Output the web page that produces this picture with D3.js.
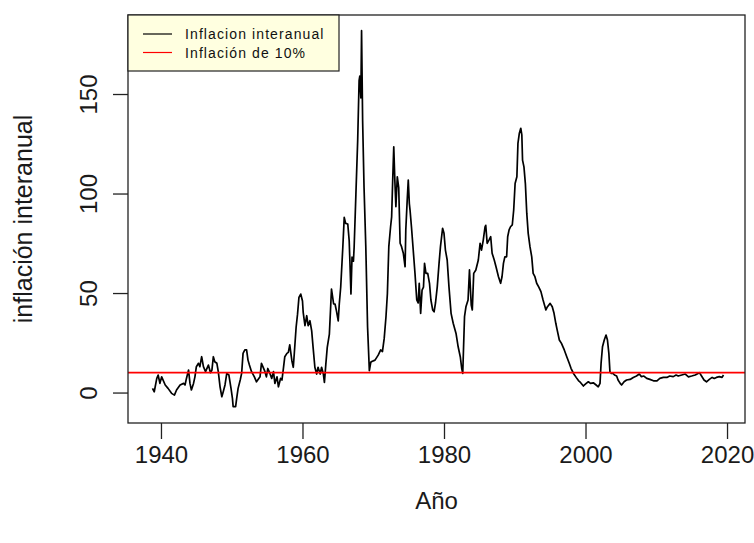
<!DOCTYPE html>
<html>
<head>
<meta charset="utf-8">
<script src="https://cdn.jsdelivr.net/npm/d3@7"></script>
<style>
  html, body { margin: 0; padding: 0; background: #fff; }
  svg { display: block; }
  text { font-family: "Liberation Sans", Arial, sans-serif; }
</style>
</head>
<body>
<svg id="chart" width="754" height="543"></svg>
<script>
// ---- data ----
const years = [
  1938.8, 1939.05, 1939.4, 1939.6, 1939.85, 1940.1, 1940.6, 1941.0, 1941.5, 1941.9,
  1942.2, 1942.7, 1943.2, 1943.4, 1943.6, 1943.9, 1944.1, 1944.3, 1944.6, 1944.8,
  1945.0, 1945.3, 1945.5, 1945.75, 1946.0, 1946.3, 1946.7, 1947.0, 1947.2, 1947.4,
  1947.6, 1947.9, 1948.1, 1948.35, 1948.6, 1948.8, 1949.05, 1949.3, 1949.6, 1949.9,
  1950.1, 1950.2, 1950.55, 1950.7, 1950.9, 1951.2, 1951.4, 1951.6, 1951.85, 1952.1,
  1952.3, 1952.5, 1952.8, 1953.2, 1953.5, 1954.0, 1954.2, 1954.4, 1954.7, 1954.9,
  1955.1, 1955.4, 1955.65, 1955.9, 1956.1, 1956.4, 1956.6, 1956.9, 1957.1, 1957.3,
  1957.5, 1957.8, 1958.0, 1958.2, 1958.5, 1958.7, 1958.85, 1959.1, 1959.3, 1959.5,
  1959.75, 1960.0, 1960.1, 1960.35, 1960.6, 1960.8, 1961.05, 1961.3, 1961.5, 1961.75,
  1962.0, 1962.2, 1962.5, 1962.7, 1962.95, 1963.1, 1963.3, 1963.5, 1963.8, 1964.0,
  1964.1, 1964.4, 1964.6, 1964.8, 1965.05, 1965.2, 1965.4, 1965.7, 1965.9, 1966.1,
  1966.4, 1966.6, 1966.7, 1966.85, 1967.0, 1967.2, 1967.3, 1967.55, 1967.8, 1968.0,
  1968.1, 1968.25, 1968.35, 1968.5, 1968.7, 1968.95, 1969.2, 1969.45, 1969.65, 1969.8,
  1970.25, 1970.7, 1971.05, 1971.3, 1971.55, 1971.8, 1972.0, 1972.2, 1972.45, 1972.6,
  1972.75, 1972.9, 1973.05, 1973.2, 1973.4, 1973.6, 1973.8, 1974.0, 1974.25, 1974.5,
  1974.6, 1974.8, 1974.95, 1975.1, 1975.2, 1975.4, 1975.65, 1975.9, 1976.15, 1976.35,
  1976.5, 1976.7, 1976.9, 1977.1, 1977.25, 1977.45, 1977.7, 1977.95, 1978.15, 1978.4,
  1978.6, 1978.8, 1979.05, 1979.3, 1979.5, 1979.8, 1980.0, 1980.2, 1980.45, 1980.7,
  1981.0, 1981.3, 1981.7, 1982.0, 1982.3, 1982.5, 1982.65, 1982.9, 1983.1, 1983.4,
  1983.6, 1983.85, 1984.0, 1984.2, 1984.5, 1984.85, 1985.1, 1985.3, 1985.55, 1985.8,
  1985.9, 1986.1, 1986.35, 1986.6, 1986.8, 1987.1, 1987.35, 1987.7, 1988.0, 1988.2,
  1988.4, 1988.6, 1988.85, 1989.0, 1989.2, 1989.4, 1989.65, 1989.85, 1990.05, 1990.3,
  1990.45, 1990.65, 1990.85, 1991.0, 1991.1, 1991.3, 1991.5, 1991.7, 1991.9, 1992.15,
  1992.4, 1992.6, 1992.85, 1993.1, 1993.4, 1993.7, 1994.0, 1994.4, 1994.6, 1995.0,
  1995.3, 1995.55, 1995.8, 1996.0, 1996.3, 1996.6, 1997.0, 1997.35, 1997.7, 1997.95,
  1998.3, 1998.7, 1999.0, 1999.2, 1999.7, 2000.1, 2000.4, 2000.7, 2001.1, 2001.5,
  2001.8, 2002.05, 2002.2, 2002.4, 2002.65, 2002.9, 2003.1, 2003.3, 2003.45, 2003.65,
  2003.9, 2004.1, 2004.4, 2004.6, 2004.9, 2005.1, 2005.45, 2005.8, 2006.3, 2006.75,
  2007.2, 2007.6, 2007.9, 2008.25, 2008.65, 2009.1, 2009.6, 2010.1, 2010.5, 2011.0,
  2011.5, 2011.9, 2012.4, 2012.8, 2013.1, 2013.6, 2014.1, 2014.55, 2015.0, 2015.5,
  2015.9, 2016.1, 2016.4, 2016.75, 2017.1, 2017.5, 2017.9, 2018.2, 2018.5, 2018.9,
  2019.3, 2019.5
];
const inflation = [
  2.1, 0.4, 7, 8.8, 4.6, 7.9, 3.8, 2.1, -0.4, -1.3,
  1.3, 3.8, 4.6, 3.8, 7.1, 11.3, 4.6, 1.3, 4.6, 7.9,
  13, 14.7, 13, 18, 13, 10.5, 13.8, 10, 11.3, 18,
  15.5, 14.7, 10.5, 2.9, -2.1, 0.4, 3.8, 9.6, 8.8, 2.1,
  -2.9, -7.1, -7.1, -2.9, 2.1, 6.3, 9.6, 19.7, 21.4, 21.4,
  16.3, 13.8, 10.5, 7.9, 5.4, 7.9, 14.7, 13, 10.5, 7.9,
  12.1, 9.6, 7.1, 10.5, 4.6, 7.9, 2.9, 7.1, 6.3, 12,
  18, 19.7, 20.2, 24, 16, 12.7, 20, 32.8, 39.4, 47.8,
  49.5, 46, 40.3, 33.6, 38.6, 33.6, 36.1, 31, 22.7, 12.7,
  9.3, 12.7, 9.3, 12.7, 9.3, 5.1, 14.3, 22.7, 29.4, 44.5,
  52, 44.5, 44.5, 41, 36, 44.5, 52.9, 73, 88, 85,
  84.7, 76.3, 66, 49.5, 68, 66, 73, 99.7, 126.5, 156.7,
  159, 148, 181.8, 136.6, 103, 73, 32.8, 11, 15.2, 15.6,
  16.3, 18.8, 21.4, 20.6, 27.2, 38.1, 49.8, 73.3, 83.3, 88.3,
  106.8, 123.5, 106.8, 93.4, 108.4, 103, 75, 73.3, 70, 63.2,
  81.7, 96.7, 106.8, 95, 91.7, 83.3, 71.6, 59.9, 46.5, 45,
  54.9, 39.8, 51.5, 53, 64.9, 59.9, 59.9, 54.9, 46.5, 41.5,
  40.6, 45, 53.2, 64.9, 73.3, 82.5, 80, 71.6, 66.6, 53.2,
  39.8, 34.8, 29.7, 23, 18, 12.2, 9.6, 38.1, 43.1, 46.5,
  61.6, 44, 41.5, 59.9, 61.6, 66.6, 75, 71.6, 76.6, 83.3,
  84, 75, 76.6, 78.3, 70, 66.6, 63.2, 58.2, 54.9, 58.2,
  64.9, 68.2, 68.2, 78.3, 81.7, 83.3, 84.2, 91.7, 105, 108.4,
  125.2, 130.3, 132.8, 129.5, 116.8, 113.4, 105, 90, 80, 73.3,
  68.2, 59.9, 58.2, 54.9, 53, 50.7, 46.5, 41.5, 43, 44.8,
  43.1, 39.8, 34.8, 31.4, 26.4, 24.7, 21.4, 18, 14.7, 12.2,
  9.6, 7.5, 6, 5.4, 3.3, 4.6, 5.4, 4.6, 4.9, 3.8,
  2.9, 4.6, 14.7, 23, 26.4, 28.9, 26.4, 19.7, 10.5, 9.6,
  9.6, 8.8, 8.3, 6.3, 4.6, 3.8, 5.4, 6.3, 6.6, 7.6,
  8.3, 9.3, 8, 8.3, 7.1, 6.6, 5.9, 5.9, 7.1, 7.6,
  7.6, 8.3, 8, 8.8, 8.3, 8.8, 9.3, 7.9, 8.3, 8.8,
  9.6, 10, 8.3, 6.3, 5.4, 6.6, 7.6, 7.1, 7.6, 8,
  7.6, 8.8
];
const threshold = 10;
const xTicks = [1940, 1960, 1980, 2000, 2020];
const yTicks = [0, 50, 100, 150];
const legendLabels = ["Inflacion interanual", "Inflación de 10%"];
const legendColors = ["#000000", "#ff0000"];
const xTitle = "Año";
const yTitle = "inflación interanual";

// ---- layout ----
const W = 754, H = 543;
const plot = { left: 128, right: 745, top: 15, bottom: 423 };

const svg = d3.select("#chart");
svg.append("rect").attr("width", W).attr("height", H).attr("fill", "#fff");

const x = d3.scaleLinear().domain([1935.34, 2022.54]).range([plot.left, plot.right]);
const y = d3.scaleLinear().domain([-15.3, 189.7]).range([plot.bottom, plot.top]);

const series = years.map((yr, i) => ({ yr, v: inflation[i] }));

svg.append("clipPath").attr("id", "clip")
  .append("rect")
  .attr("x", plot.left).attr("y", plot.top)
  .attr("width", plot.right - plot.left).attr("height", plot.bottom - plot.top);

// series line
svg.append("path")
  .datum(series)
  .attr("clip-path", "url(#clip)")
  .attr("fill", "none")
  .attr("stroke", "#000")
  .attr("stroke-width", 1.7)
  .attr("stroke-linejoin", "round")
  .attr("d", d3.line().x(d => x(d.yr)).y(d => y(d.v)));

// threshold line
svg.append("line")
  .attr("x1", plot.left).attr("x2", plot.right)
  .attr("y1", y(threshold)).attr("y2", y(threshold))
  .attr("stroke", "#ff0000").attr("stroke-width", 1.6);

// axes
const fontSize = 24;
const textColor = "#1a1a1a";
const xAxis = svg.append("g")
  .attr("transform", `translate(0,${plot.bottom})`)
  .call(d3.axisBottom(x).tickValues(xTicks).tickFormat(d3.format("d")).tickSize(16).tickPadding(7));
xAxis.select(".domain").remove();
xAxis.selectAll("line").attr("stroke", "#222").attr("stroke-width", 1.3);
xAxis.selectAll("text").attr("font-size", fontSize).attr("fill", textColor)
  .attr("font-family", "Liberation Sans, Arial, sans-serif");

const yAxis = svg.append("g")
  .attr("transform", `translate(${plot.left},0)`)
  .call(d3.axisLeft(y).tickValues(yTicks).tickFormat(d3.format("d")).tickSize(15));
yAxis.select(".domain").remove();
yAxis.selectAll("line").attr("stroke", "#222").attr("stroke-width", 1.3);
yAxis.selectAll("text")
  .attr("font-size", fontSize).attr("fill", textColor)
  .attr("font-family", "Liberation Sans, Arial, sans-serif")
  .attr("text-anchor", "middle")
  .attr("dy", null)
  .attr("x", null)
  .attr("transform", "translate(-31,0) rotate(-90)");

// frame
svg.append("rect")
  .attr("x", plot.left).attr("y", plot.top)
  .attr("width", plot.right - plot.left).attr("height", plot.bottom - plot.top)
  .attr("fill", "none").attr("stroke", "#222").attr("stroke-width", 1.3);

// axis titles
svg.append("text")
  .attr("x", (plot.left + plot.right) / 2).attr("y", 509)
  .attr("text-anchor", "middle").attr("font-size", fontSize).attr("fill", textColor)
  .text(xTitle);
svg.append("text")
  .attr("transform", `translate(32,${(plot.top + plot.bottom) / 2}) rotate(-90)`)
  .attr("text-anchor", "middle").attr("font-size", 25).attr("fill", textColor)
  .text(yTitle);

// legend
const lg = svg.append("g");
lg.append("rect")
  .attr("x", plot.left).attr("y", plot.top)
  .attr("width", 211).attr("height", 56)
  .attr("fill", "#ffffe0").attr("stroke", "#222").attr("stroke-width", 1.2);
legendLabels.forEach((lab, i) => {
  const ly = plot.top + 19 + i * 18.5;
  lg.append("line")
    .attr("x1", 143).attr("x2", 172).attr("y1", ly).attr("y2", ly)
    .attr("stroke", legendColors[i]).attr("stroke-width", 1.2);
  lg.append("text")
    .attr("x", 185).attr("y", ly + 5)
    .attr("font-size", 14).attr("letter-spacing", 1.1).attr("fill", "#111")
    .text(lab);
});
</script>
</body>
</html>
